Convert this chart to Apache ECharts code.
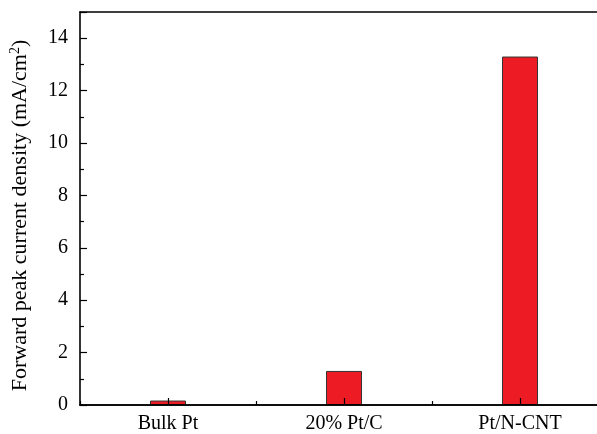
<!DOCTYPE html>
<html>
<head>
<meta charset="utf-8">
<script src="https://cdn.jsdelivr.net/npm/echarts@6/dist/echarts.min.js"></script>
<style>
  html, body { margin: 0; padding: 0; background: #fff; overflow: hidden; }
  #chart { width: 597px; height: 434px; }
</style>
</head>
<body>
<div id="chart"></div>
<script>
// Catalyst samples and their forward peak current densities (mA/cm²)
const categories = ['Bulk Pt', '20% Pt/C', 'Pt/N-CNT'];
const peakCurrent = [0.17, 1.30, 13.30];

const yMin = 0;
const yMax = 15;
const yInterval = 2;

const FONT = 'Liberation Serif';

const chart = echarts.init(document.getElementById('chart'), null, { renderer: 'canvas' });

const baseX = {
  type: 'category',
  data: categories,
  boundaryGap: true,
  axisLine: { show: true, lineStyle: { color: '#000', width: 1.6 } },
  splitLine: { show: false }
};

chart.setOption({
  animation: false,
  backgroundColor: '#fff',
  // plot frame runs past the right edge of the canvas
  grid: { left: 80, top: 12, width: 528, bottom: 29, containLabel: false, outerBoundsMode: 'none' },
  xAxis: [
    Object.assign({}, baseX, {
      position: 'bottom',
      z: 5,
      axisTick: { show: true, inside: true, alignWithLabel: true, length: 7, lineStyle: { color: '#000', width: 1.2 } },
      axisLabel: { show: true, margin: 9, color: '#000', fontFamily: FONT, fontSize: 20 }
    }),
    Object.assign({}, baseX, {
      position: 'bottom',
      z: 5,
      axisTick: { show: true, inside: true, alignWithLabel: false, length: 4, lineStyle: { color: '#000', width: 1.2 } },
      axisLabel: { show: false }
    }),
    Object.assign({}, baseX, {
      position: 'top',
      axisTick: { show: false },
      axisLabel: { show: false }
    })
  ],
  yAxis: {
    type: 'value',
    min: yMin,
    max: yMax,
    interval: yInterval,
    z: 5,
    name: '{t|Forward peak current density (mA/cm}{s|2}{t|)}',
    nameLocation: 'middle',
    nameGap: 48,
    nameRotate: 90,
    nameTextStyle: {
      padding: [0, 14, 0, 0],
      rich: {
        t: { fontFamily: FONT, fontSize: 22, color: '#000' },
        s: { fontFamily: FONT, fontSize: 14, color: '#000', padding: [0, 0, 10, 0] }
      }
    },
    axisLine: { show: true, lineStyle: { color: '#000', width: 1.6 } },
    axisTick: { show: true, inside: true, length: 7, lineStyle: { color: '#000', width: 1.2 } },
    minorTick: { show: true, splitNumber: 2, length: 4, lineStyle: { color: '#000', width: 1.2 } },
    axisLabel: {
      color: '#000', fontFamily: FONT, fontSize: 20, margin: 12,
      showMaxLabel: false
    },
    splitLine: { show: false }
  },
  series: [{
    type: 'bar',
    xAxisIndex: 0,
    data: peakCurrent,
    barWidth: 36,
    itemStyle: { color: '#ED1C24', borderColor: '#333', borderWidth: 1 }
  }]
});
</script>
</body>
</html>
